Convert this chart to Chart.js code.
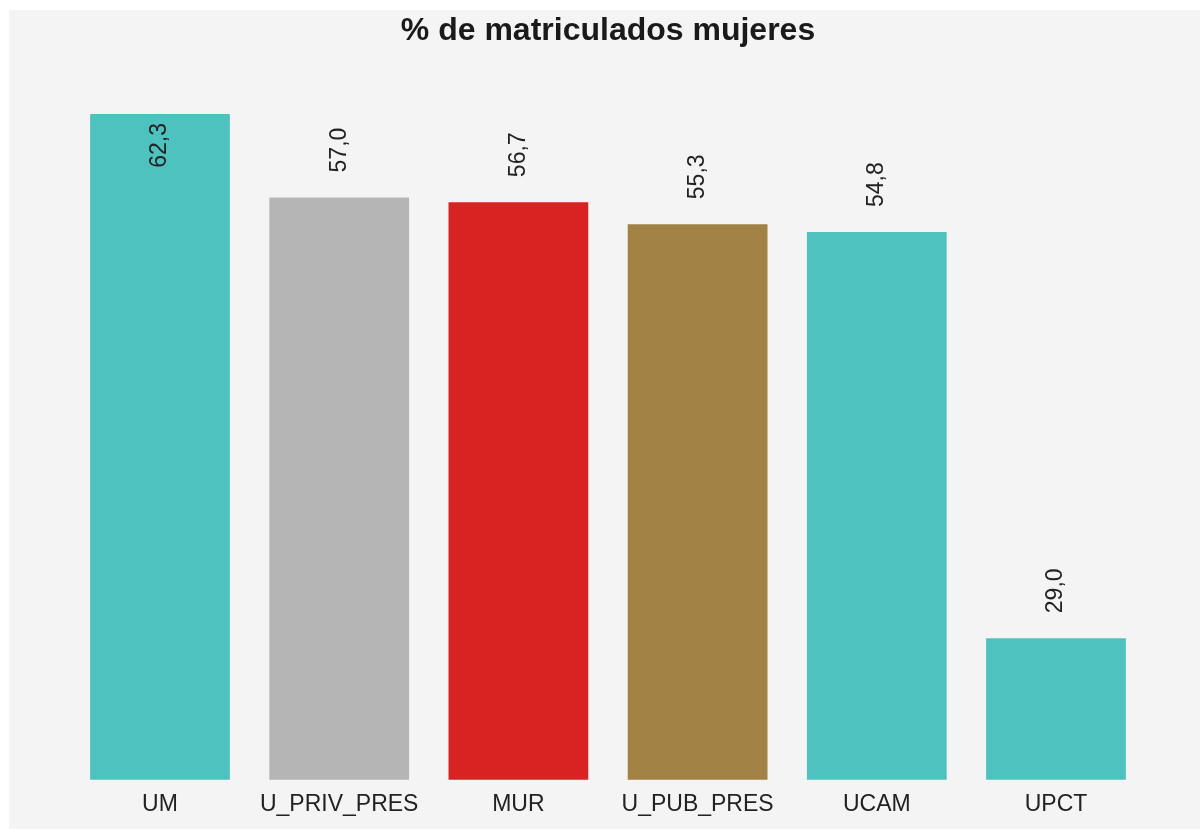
<!DOCTYPE html>
<html>
<head>
<meta charset="utf-8">
<script src="https://cdn.jsdelivr.net/npm/chart.js@4/dist/chart.umd.min.js"></script>
<style>
    body { margin: 0; background: #ffffff; }
    #wrap { position: absolute; left: 9px; top: 10px; width: 1191px; height: 819px; background: #f4f4f4; }
</style>
</head>
<body>
<div id="wrap"><canvas id="myChart" width="1191" height="819"></canvas></div>
<script>

const categories = ["UM", "U_PRIV_PRES", "MUR", "U_PUB_PRES", "UCAM", "UPCT"];
const values = [62.3, 57.0, 56.7, 55.3, 54.8, 29.0];
const barColors = ["#4ec2be", "#b5b5b5", "#d92323", "#a28244", "#4ec2be", "#4ec2be"];

const FONT = "Arial, 'Liberation Sans', sans-serif";

// value labels, rotated, above each bar (kept inside the chart area)
const valueLabels = {
    id: "valueLabels",
    afterDatasetsDraw(chart) {
        const ctx = chart.ctx;
        const area = chart.chartArea;
        const meta = chart.getDatasetMeta(0);
        ctx.save();
        ctx.font = "23px " + FONT;
        ctx.fillStyle = "#222222";
        meta.data.forEach((bar, i) => {
            const txt = values[i].toFixed(1).replace(".", ",");
            const w = ctx.measureText(txt).width;
            let bottom = bar.y - 25;
            if (bottom - w < area.top + 9) bottom = area.top + 9 + w;
            ctx.save();
            ctx.translate(bar.x, bottom);
            ctx.rotate(-Math.PI / 2);
            ctx.textAlign = "left";
            ctx.textBaseline = "middle";
            ctx.fillText(txt, 0, 0);
            ctx.restore();
        });
        ctx.restore();
    }
};

const chart = new Chart(document.getElementById("myChart"), {
    type: "bar",
    data: {
        labels: categories,
        datasets: [{
            data: values,
            backgroundColor: barColors,
            borderWidth: 0,
            barPercentage: 0.78,
            categoryPercentage: 1.0
        }]
    },
    options: {
        responsive: false,
        animation: false,
        layout: { padding: { left: 61.4, right: 54.4, top: 0, bottom: 0 } },
        plugins: {
            legend: { display: false },
            tooltip: { enabled: false },
            title: {
                display: true,
                text: "% de matriculados mujeres",
                color: "#1a1a1a",
                font: { family: FONT, size: 32, weight: "bold", lineHeight: 1.2 },
                padding: { top: 2, bottom: 63.6 }
            }
        },
        scales: {
            x: {
                grid: { display: false, drawTicks: false },
                border: { display: false },
                ticks: {
                    color: "#222222",
                    font: { family: FONT, size: 23, lineHeight: 1.05 },
                    padding: 12.5,
                    maxRotation: 0,
                    autoSkip: false
                }
            },
            y: {
                display: false,
                min: 20,
                max: 62.3
            }
        }
    },
    plugins: [valueLabels]
});

</script>
</body>
</html>
